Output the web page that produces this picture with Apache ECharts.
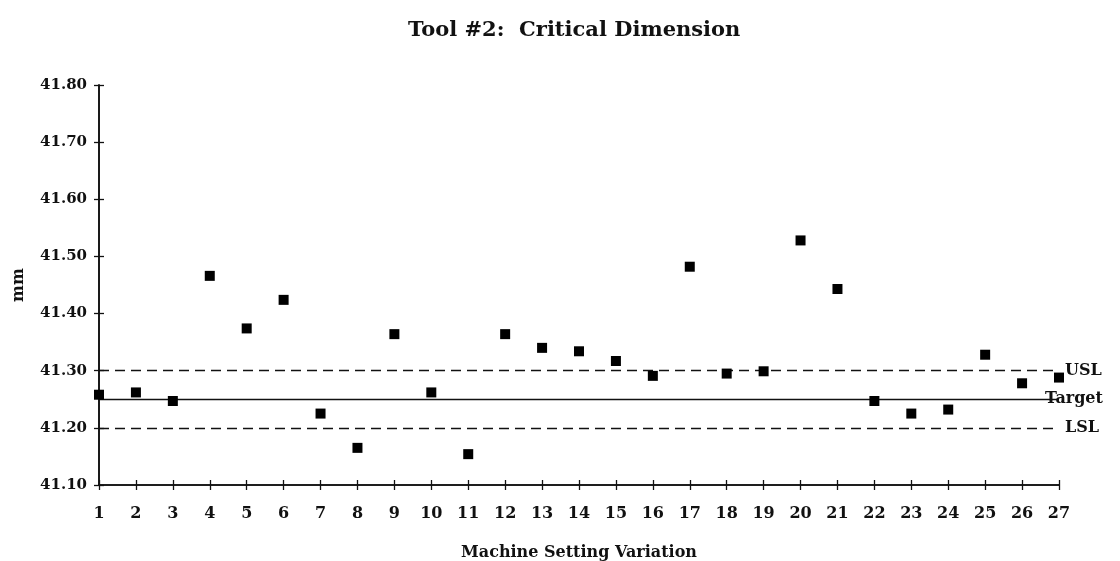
<!DOCTYPE html>
<html>
<head>
<meta charset="utf-8">
<script src="https://cdn.jsdelivr.net/npm/echarts@6/dist/echarts.min.js"></script>
<style>html,body{margin:0;padding:0;background:#fff}#c{width:1120px;height:561px}</style>
</head>
<body>
<div id="c"></div>
<script>
const settings = [1,2,3,4,5,6,7,8,9,10,11,12,13,14,15,16,17,18,19,20,21,22,23,24,25,26,27];
const values = [41.258,41.262,41.247,41.466,41.374,41.424,41.225,41.165,41.364,41.262,41.154,
  41.364,41.340,41.334,41.317,41.291,41.482,41.295,41.299,41.528,41.443,41.247,41.225,41.232,41.328,41.278,41.288];
const limitNames = ['USL','Target','LSL'];
const limitValues = [41.30, 41.25, 41.20];
const yTicks = ['41.10','41.20','41.30','41.40','41.50','41.60','41.70','41.80'];

const FONT = '"DejaVu Serif", serif';
const chart = echarts.init(document.getElementById('c'));
const yMin = parseFloat(yTicks[0]), yMax = parseFloat(yTicks[yTicks.length-1]);
const axisCommon = {min: yMin, max: yMax, interval: 0.1};
const tickStyle = {color: '#111', width: 1.3};
chart.setOption({
  animation: false,
  backgroundColor: '#fff',
  title: {
    text: 'Tool #2:  Critical Dimension', left: 403, top: 15,
    textStyle: {fontFamily: FONT, fontWeight: 'bold', fontSize: 21, color: '#111'}
  },
  grid: {left: 99, right: 61, top: 85, bottom: 76, containLabel: false, outerBoundsMode: 'none'},
  xAxis: [{
    type: 'value', min: 1, max: 27, interval: 1,
    name: 'Machine Setting Variation', nameLocation: 'middle', nameGap: 60,
    nameTextStyle: {fontFamily: FONT, fontWeight: 'bold', fontSize: 16, color: '#111'},
    axisLine: {lineStyle: {color: '#111', width: 1.6}},
    axisTick: {length: 5, lineStyle: tickStyle},
    axisLabel: {fontFamily: FONT, fontWeight: 'bold', fontSize: 16, color: '#111', margin: 21},
    splitLine: {show: false}
  }, {
    type: 'value', min: 1, max: 27, interval: 1, position: 'bottom',
    axisLine: {show: true, lineStyle: {color: '#111', width: 1.6}},
    axisTick: {show: true, inside: true, length: 5, lineStyle: tickStyle},
    axisLabel: {show: false}, splitLine: {show: false}
  }],
  yAxis: [Object.assign({
    type: 'value',
    name: 'mm', nameLocation: 'middle', nameGap: 72, nameRotate: 90,
    nameTextStyle: {fontFamily: FONT, fontWeight: 'bold', fontSize: 16, color: '#111'},
    axisLine: {show: true, lineStyle: {color: '#111', width: 1.6}},
    axisTick: {show: true, length: 5, lineStyle: tickStyle},
    axisLabel: {fontFamily: FONT, fontWeight: 'bold', fontSize: 15, color: '#111', margin: 12,
      formatter: v => v.toFixed(2)},
    splitLine: {show: false}
  }, axisCommon), Object.assign({
    type: 'value', position: 'left',
    axisLine: {show: true, lineStyle: {color: '#111', width: 1.6}},
    axisTick: {show: true, inside: true, length: 5, lineStyle: tickStyle},
    axisLabel: {show: false}, splitLine: {show: false}
  }, axisCommon)],
  series: [{
    type: 'scatter',
    data: settings.map((s, i) => [s, values[i]]),
    symbol: 'rect', symbolSize: 10,
    itemStyle: {color: '#000', opacity: 1},
    z: 5,
    markLine: {
      silent: true, symbol: 'none',
      label: {show: true, position: 'end', fontFamily: FONT, fontWeight: 'bold', fontSize: 16, color: '#111'},
      data: limitNames.map((n, i) => ({
        yAxis: limitValues[i], name: n,
        lineStyle: {color: '#111', width: 1.4, type: n === 'Target' ? 'solid' : [10, 6]},
        label: {formatter: n, distance: n === 'Target' ? -14 : 6}
      }))
    }
  }]
});
</script>
</body>
</html>
